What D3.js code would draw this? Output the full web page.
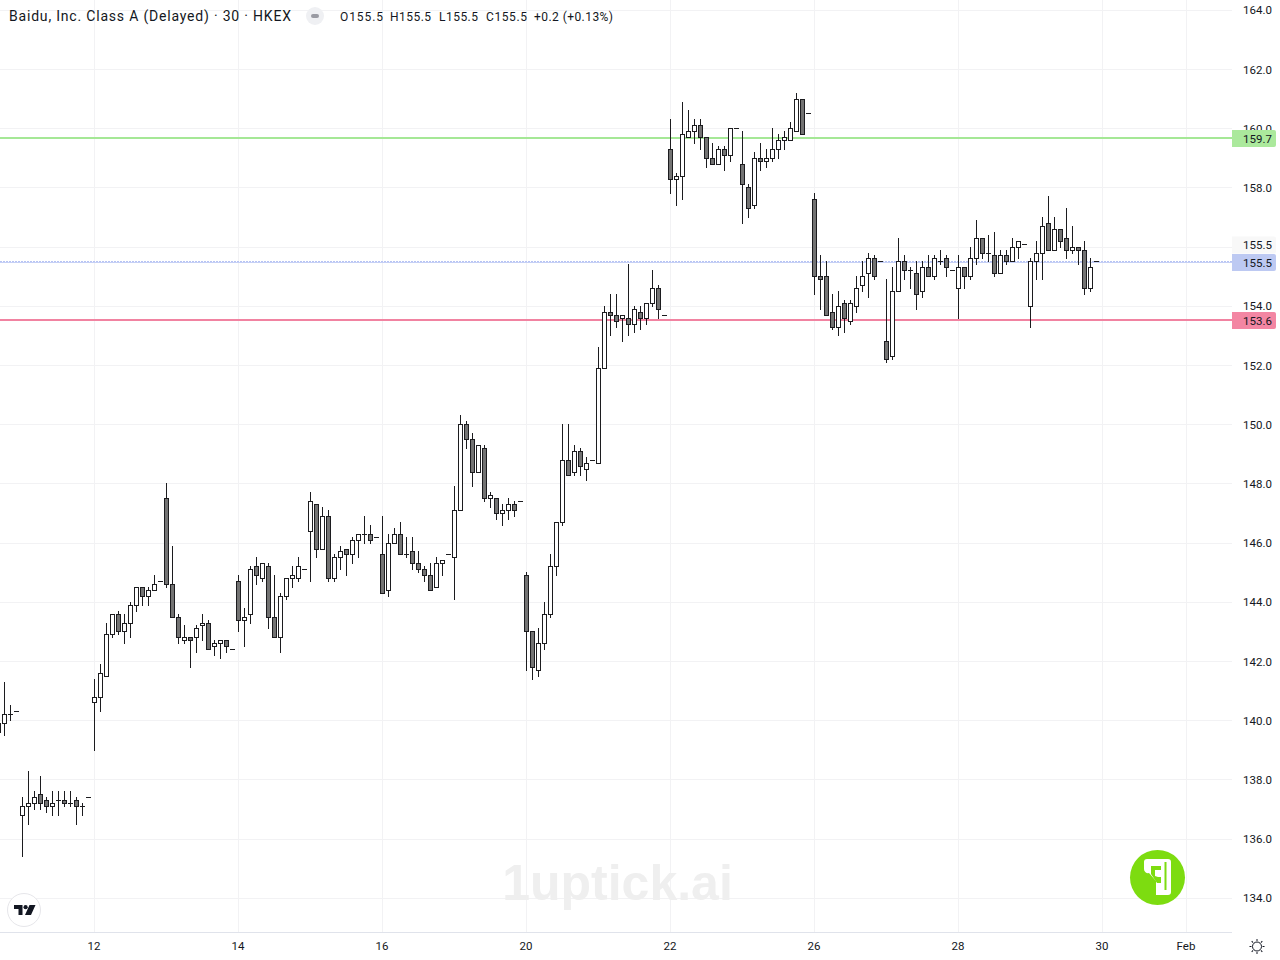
<!DOCTYPE html>
<html><head><meta charset="utf-8">
<script src="https://cdnjs.cloudflare.com/ajax/libs/d3/7.8.5/d3.min.js"></script>
<style>html,body{margin:0;padding:0;background:#fff;overflow:hidden}svg{display:block}text{font-family:Roboto,sans-serif}</style>
</head><body><svg id="c" width="1280" height="960"></svg>
<script>
// Each row: open, high, low, close
const lead=[[139.6,140.0,139.4,139.9],[139.9,141.3,139.5,140.2],[140.2,140.5,140.0,140.2],[140.3,140.3,140.3,140.3],[136.8,137.4,135.4,137.1],[137.1,138.3,136.5,137.2],[137.2,137.6,137.0,137.4],[137.5,138.1,137.0,137.2],[137.3,137.4,136.9,137.1],[137.1,137.6,136.8,137.2],[137.3,137.6,136.8,137.3],[137.3,137.6,137.1,137.2],[137.2,137.6,137.1,137.2],[137.3,137.4,136.5,137.1],[137.1,137.2,136.8,137.1],[137.4,137.4,137.4,137.4]];
const jan12=[[140.6,141.4,139.0,140.8],[140.8,141.9,140.3,141.6],[141.5,143.3,141.5,142.9],[142.9,143.6,142.8,143.6],[143.6,143.7,142.9,143.0],[143.0,143.6,142.6,143.3],[143.3,144.0,142.8,143.9],[143.9,144.5,143.7,144.5],[144.5,144.5,143.9,144.2],[144.2,144.5,143.9,144.4],[144.4,144.9,144.4,144.6],[144.7,144.7,144.7,144.7]];
const jan13=[[147.5,148.0,144.5,144.6],[144.6,145.9,143.5,143.5],[143.5,143.6,142.6,142.8],[142.7,143.2,142.6,142.8],[142.8,142.8,141.8,142.7],[142.8,143.2,142.3,143.1],[143.2,143.6,142.7,143.3],[143.3,143.4,142.4,142.4],[142.5,142.7,142.2,142.6],[142.6,142.7,142.1,142.7],[142.7,142.7,142.3,142.5],[142.4,142.4,142.4,142.4]];
const jan14=[[144.7,144.9,143.0,143.4],[143.4,143.8,142.5,143.5],[143.6,145.2,143.3,145.1],[145.2,145.5,144.6,144.9],[144.8,145.3,144.7,145.3],[145.2,145.3,143.1,143.5],[143.5,144.9,142.8,142.8],[142.8,144.3,142.3,144.2],[144.2,144.8,144.1,144.8],[144.8,145.2,144.5,144.9],[144.8,145.5,144.7,145.2],[145.1,145.1,145.1,145.1]];
const jan15=[[146.4,147.7,144.7,147.4],[147.3,147.3,145.5,145.8],[145.8,147.2,145.8,146.9],[146.9,147.1,144.7,144.8],[144.8,145.6,144.7,145.5],[145.5,145.9,145.1,145.7],[145.8,145.8,144.9,145.6],[145.6,146.2,145.3,146.1],[146.1,146.3,145.5,146.3],[146.3,146.9,146.0,146.3],[146.3,146.6,146.0,146.1],[146.2,146.2,146.2,146.2]];
const jan16=[[145.6,146.9,144.3,144.3],[144.4,146.3,144.2,146.0],[146.0,146.5,146.0,146.3],[146.3,146.7,145.6,145.6],[145.6,146.2,145.5,145.6],[145.7,146.2,145.1,145.3],[145.3,145.7,145.0,145.1],[145.1,145.2,144.7,144.9],[144.9,145.3,144.4,144.4],[144.5,145.5,144.5,145.3],[145.3,145.4,144.9,145.4],[145.6,145.6,145.6,145.6]];
const jan19=[[145.5,147.9,144.1,147.1],[147.1,150.3,147.1,150.0],[150.0,150.1,149.2,149.5],[149.5,149.7,147.9,148.4],[148.4,149.3,148.4,149.3],[149.2,149.3,147.4,147.5],[147.5,147.7,147.2,147.6],[147.5,147.5,146.8,147.0],[147.0,147.3,146.6,147.1],[147.1,147.5,146.8,147.3],[147.3,147.4,146.9,147.1],[147.4,147.4,147.4,147.4]];
const jan20=[[144.9,145.0,141.7,143.0],[143.0,143.0,141.4,141.8],[141.7,143.1,141.5,142.6],[142.6,144.0,142.4,143.6],[143.6,145.6,143.5,145.2],[145.2,146.7,144.9,146.7],[146.7,150.0,146.6,148.8],[148.8,150.0,148.3,148.3],[148.4,149.3,148.3,149.1],[149.1,149.2,148.3,148.6],[148.5,148.9,148.1,148.7],[148.8,148.8,148.8,148.8]];
const jan21=[[148.7,152.6,148.7,151.9],[151.9,154.0,151.9,153.8],[153.8,154.4,153.0,153.7],[153.7,154.4,153.3,153.5],[153.6,153.7,152.8,153.7],[153.6,155.4,153.0,153.4],[153.4,154.0,153.1,153.9],[153.8,154.0,153.2,153.6],[153.6,154.1,153.4,154.1],[154.1,155.2,154.0,154.6],[154.6,154.7,153.6,153.9],[153.7,153.7,153.7,153.7]];
const jan22=[[159.3,160.3,157.8,158.3],[158.3,158.5,157.4,158.4],[158.4,160.9,157.6,159.8],[159.7,160.6,159.7,159.9],[159.9,160.3,159.5,160.1],[160.1,160.3,159.3,159.7],[159.7,159.7,158.7,159.0],[159.0,159.5,158.8,158.8],[158.8,159.4,158.8,159.3],[159.3,159.4,158.6,159.1],[159.1,160.0,158.9,160.0],[160.0,160.0,160.0,160.0]];
const jan23=[[158.8,159.9,156.8,158.1],[158.0,158.1,157.0,157.3],[157.4,159.2,157.3,159.0],[159.0,159.5,158.6,158.9],[158.9,159.3,158.7,159.0],[159.0,160.0,158.9,159.3],[159.3,159.8,159.0,159.6],[159.6,159.9,159.3,159.7],[159.6,160.2,159.6,160.0],[159.9,161.2,159.9,161.0],[161.0,161.0,159.8,159.8],[160.5,160.5,160.5,160.5]];
const jan26=[[157.6,157.8,154.4,155.0],[155.0,155.7,153.9,154.9],[155.0,155.5,153.7,153.7],[153.8,154.4,153.2,153.3],[153.3,154.5,153.0,154.0],[154.1,154.2,153.1,153.6],[153.5,154.2,153.4,154.1],[154.0,155.0,153.8,154.6],[154.7,155.5,154.5,155.0],[155.1,155.8,154.3,155.6],[155.6,155.7,154.9,155.0],[155.5,155.5,155.5,155.5]];
const jan27=[[152.8,154.9,152.1,152.2],[152.3,155.3,152.2,154.5],[154.5,156.3,154.5,155.5],[155.5,155.7,154.9,155.2],[155.2,155.3,154.6,155.2],[155.1,155.5,153.9,154.4],[154.5,155.5,154.3,155.3],[155.3,155.7,155.0,155.0],[155.0,155.7,154.9,155.6],[155.5,155.9,155.4,155.5],[155.6,155.7,155.0,155.3],[155.2,155.2,155.2,155.2]];
const jan28=[[154.6,155.7,153.6,155.3],[155.3,155.3,154.6,155.0],[155.0,156.0,154.9,155.6],[155.6,156.9,155.4,156.3],[156.3,156.3,155.6,155.8],[155.8,156.4,155.5,155.8],[155.7,156.5,155.0,155.1],[155.1,155.9,155.1,155.7],[155.7,155.9,155.4,155.5],[155.5,156.3,155.5,156.0],[156.0,156.2,155.6,156.2],[156.1,156.1,156.1,156.1]];
const jan29=[[154.0,155.6,153.3,155.5],[155.5,156.2,154.9,155.8],[155.8,157.0,154.9,156.7],[156.8,157.7,155.9,155.9],[155.9,157.0,155.9,156.6],[156.6,156.6,156.0,156.2],[156.3,157.3,155.6,155.9],[155.9,156.7,155.8,156.0],[156.0,156.0,155.4,155.9],[155.9,156.2,154.4,154.6],[154.6,155.6,154.5,155.3],[155.5,155.5,155.5,155.5]];
const priceTicks=[164,162,160,158,154,152,150,148,146,144,142,140,138,136,134];
const timeTicks=[16,40,64,88,112,136,160,184,198];
const timeLabels=["12","14","16","20","22","26","28","30","Feb"];
const levels=[{p:159.7,t:"159.7"},{p:155.5,t:"155.5"},{p:153.55,t:"153.6"}];
const highLabel="155.5";
const titleText="Baidu, Inc. Class A (Delayed) · 30 · HKEX";
const ohlcLegend=[["O","155.5"],["H","155.5"],["L","155.5"],["C","155.5"]];
const changeText="+0.2 (+0.13%)";

const bars=[].concat(lead,jan12,jan13,jan14,jan15,jan16,jan19,jan20,jan21,jan22,jan23,jan26,jan27,jan28,jan29);
const plotR=1232,plotB=932;
const svg=d3.select("#c");
const x=d3.scaleLinear().domain([0,16]).range([-1.5,94.5]);
const y=d3.scaleLinear().domain([144,134]).range([602.3,898.3]);
const grid="#f2f2f4";
const sy=v=>Math.round(y(v)-.5)+.5;

const g=svg.append("g");
// grid
g.selectAll(".h").data(priceTicks).join("line").attr("x1",0).attr("x2",plotR).attr("y1",sy).attr("y2",sy).attr("stroke",grid);
g.append("line").attr("x1",0).attr("x2",plotR).attr("y1",sy(156)).attr("y2",sy(156)).attr("stroke",grid);
g.selectAll(".v").data(timeTicks).join("line").attr("x1",x).attr("x2",x).attr("y1",0).attr("y2",plotB).attr("stroke",grid);
// watermark
svg.append("text").attr("x",617.5).attr("y",900).attr("text-anchor","middle").style("font-family","'Liberation Sans'").style("font-weight","700").style("font-size","50px").attr("fill","#efefef").text("1uptick.ai");
// level lines
const lineCols=["#a5e896","#c6d0f5","#f183a1"];
svg.append("line").attr("x1",0).attr("x2",plotR).attr("y1",Math.round(y(levels[0].p))).attr("y2",Math.round(y(levels[0].p))).attr("stroke",lineCols[0]).attr("stroke-width",2);
svg.append("line").attr("x1",0).attr("x2",plotR).attr("y1",262.5).attr("y2",262.5).attr("stroke",lineCols[1]).attr("stroke-width",1);
svg.append("line").attr("x1",0).attr("x2",plotR).attr("y1",261.5).attr("y2",261.5).attr("stroke","#b6c3f4").attr("stroke-width",1).attr("stroke-dasharray","2 1");
svg.append("line").attr("x1",0).attr("x2",plotR).attr("y1",Math.round(y(levels[2].p))).attr("y2",Math.round(y(levels[2].p))).attr("stroke",lineCols[2]).attr("stroke-width",2);
// candles
const ink="#1c1c1f";
const c=svg.append("g").selectAll("g").data(bars).join("g").attr("transform",(d,i)=>`translate(${x(i)},0)`);
c.append("line").attr("y1",d=>sy(d[1])-.5).attr("y2",d=>sy(d[2])+.5).attr("stroke",ink);
c.filter(d=>d[0]!==d[3]).append("rect").attr("x",-2).attr("width",4)
 .attr("y",d=>sy(Math.max(d[0],d[3]))).attr("height",d=>sy(Math.min(d[0],d[3]))-sy(Math.max(d[0],d[3])))
 .attr("fill",d=>d[3]>d[0]?"#fff":"#737373").attr("stroke",ink);
c.filter(d=>d[0]===d[3]).append("line").attr("x1",-2.5).attr("x2",2.5).attr("y1",d=>sy(d[0])).attr("y2",d=>sy(d[0])).attr("stroke",ink);
// bottom border and axis
svg.append("rect").attr("x",0).attr("y",932).attr("width",plotR).attr("height",1).attr("fill","#e0e3eb");
const ax=d3.axisBottom(x).tickValues(timeTicks).tickFormat((d,i)=>timeLabels[i]).tickSize(0).tickPadding(0);
const axG=svg.append("g").attr("transform","translate(-1,950)").call(ax);
axG.select(".domain").remove();
axG.selectAll("text").attr("dy",0).attr("y",0).attr("fill","#131722").style("font-size","11.5px");
const ay=d3.axisRight(y).tickValues(priceTicks).tickFormat(d3.format(".1f")).tickSize(0).tickPadding(0);
const ayG=svg.append("g").attr("transform","translate(1243,0)").call(ay);
ayG.select(".domain").remove();
ayG.selectAll("text").attr("x",0).attr("fill","#131722").style("font-size","11.5px");
// price tags
const tag=(yy,txt,fill)=>{svg.append("path").attr("d",`M1232 ${yy-8.5}H1274a2 2 0 0 1 2 2V${yy+6.5}a2 2 0 0 1 -2 2H1232Z`).attr("fill",fill);
 svg.append("text").attr("x",1243).attr("y",yy+4.2).attr("fill","#131722").style("font-size","11.5px").text(txt);};
tag(245,highLabel,"#f8f8f8");
tag(138.5,levels[0].t,"#abe99c");
tag(262.5,levels[1].t,"#bdc9f2");
tag(320.5,levels[2].t,"#f386a3");
// legend
svg.append("text").attr("x",9).attr("y",21).attr("fill","#131722").attr("textLength",282).style("font-size","14px").text(titleText);
svg.append("rect").attr("x",306).attr("y",7).attr("width",18).attr("height",18).attr("rx",9).attr("fill","#eff0f3");
svg.append("rect").attr("x",311).attr("y",14).attr("width",8).attr("height",4).attr("rx",2).attr("fill","#9a9ba3");
const lx=[340,390,439,486], lw=[43,41,39,41];
ohlcLegend.forEach((d,i)=>svg.append("text").attr("x",lx[i]).attr("y",21).attr("fill","#131722").attr("textLength",lw[i]).style("font-size","12px").text(d[0]+d[1]));
svg.append("text").attr("x",534).attr("y",21).attr("fill","#131722").attr("textLength",79).style("font-size","12px").text(changeText);
// TV badge
svg.append("circle").attr("cx",24).attr("cy",910).attr("r",16.5).attr("fill","#fff").attr("stroke","#e6e6ea");
svg.append("path").attr("d","M14 905h8.5v10h-4v-6h-4.5Z M29.5 905h6l-4.5 10h-6Z").attr("fill","#131722");
svg.append("circle").attr("cx",25.6).attr("cy",907.2).attr("r",2.1).attr("fill","#131722");
// green badge
svg.append("circle").attr("cx",1157.5).attr("cy",877.5).attr("r",27.5).attr("fill","#7ddc10");
svg.append("path").attr("d","M1147 859h21a3 3 0 0 1 3 3v30a3 3 0 0 1 -3 3h-12v-14l-7 -8a4 4 0 0 1 -5 -4v-7a3 3 0 0 1 3 -3Z").attr("fill","#fff");
svg.append("path").attr("d","M1151 866h10v4h-6v6l3 1h3v6h-4l-6 -9Z").attr("fill","#7ddc10");
svg.append("rect").attr("x",1164.5).attr("y",862).attr("width",2).attr("height",28).attr("fill","#7ddc10");
// settings sun
const sun=svg.append("g").attr("transform","translate(1257,946.5)").attr("fill","none").attr("stroke","#131722");
sun.append("circle").attr("r",4.5);
[0,45,90,135,180,225,270,315].forEach(a=>sun.append("line").attr("x1",5.5).attr("x2",7.5).attr("transform",`rotate(${a})`));
</script></body></html>
